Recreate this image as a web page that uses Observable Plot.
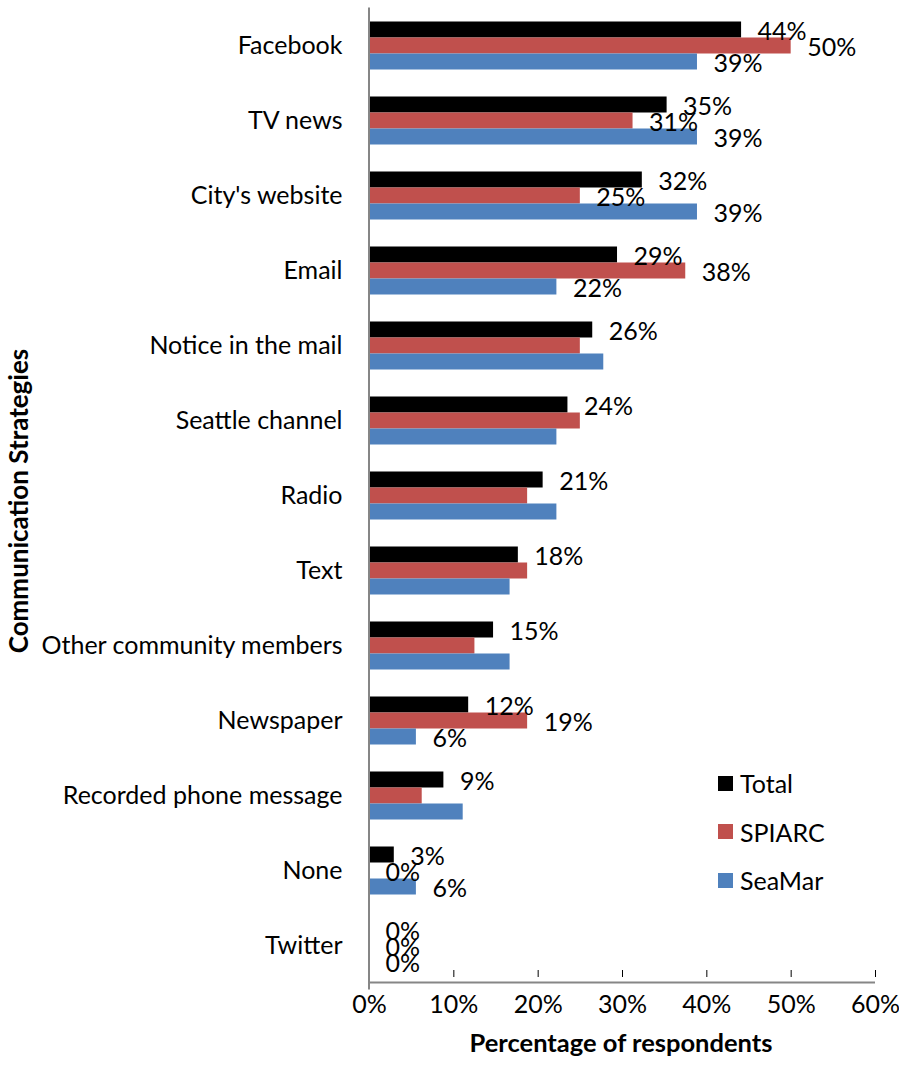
<!DOCTYPE html>
<html><head><meta charset="utf-8">
<script src="https://cdn.jsdelivr.net/npm/d3@7"></script>
<script src="https://cdn.jsdelivr.net/npm/@observablehq/plot@0.6"></script>
<style>
body{margin:0;background:#fff;}
#wrap{position:relative;width:899px;height:1070px;font-family:Lato, sans-serif;color:#000;}
.legend{position:absolute;left:718px;top:759px;}
.item{display:flex;align-items:center;height:48.5px;font-size:25px;}
.sw{width:15px;height:15px;margin-right:7px;}
.ytitle{position:absolute;left:18px;top:501px;transform:translate(-50%,-50%) rotate(-90deg);font-weight:bold;font-size:26px;white-space:nowrap;}
.xtitle{position:absolute;left:621px;top:1042px;transform:translate(-50%,-50%);font-weight:bold;font-size:25.5px;white-space:nowrap;}
</style></head><body><div id="wrap"></div>
<script>
const categories = ["Facebook","TV news","City's website","Email","Notice in the mail","Seattle channel","Radio","Text","Other community members","Newspaper","Recorded phone message","None","Twitter"];
const seriesNames = ["Total","SPIARC","SeaMar"];
const seriesColors = ["#000000","#C0504D","#4F81BD"];
const total  = [44.12, 35.29, 32.35, 29.41, 26.47, 23.53, 20.59, 17.65, 14.71, 11.76, 8.82, 2.94, 0];
const spiarc = [50, 31.25, 25, 37.5, 25, 25, 18.75, 18.75, 12.5, 18.75, 6.25, 0, 0];
const seamar = [38.89, 38.89, 38.89, 22.22, 27.78, 22.22, 22.22, 16.67, 16.67, 5.56, 11.11, 5.56, 0];
const showTotal  = [1,1,1,1,1,1,1,1,1,1,1,1,1];
const showSpiarc = [1,1,1,1,0,0,0,0,0,1,0,1,1];
const showSeamar = [1,1,1,1,0,0,0,0,0,1,0,1,1];
const xTicks = [0,10,20,30,40,50,60];

const valueArrays = [total, spiarc, seamar];
const showArrays = [showTotal, showSpiarc, showSeamar];
const rows = [];
categories.forEach((c, i) => {
  seriesNames.forEach((s, j) => {
    rows.push({category: c, series: s, value: valueArrays[j][i], show: showArrays[j][i] === 1});
  });
});

const plot = Plot.plot({
  width: 899, height: 1070,
  marginLeft: 369, marginRight: 24, marginTop: 7.5, marginBottom: 87.5,
  style: {fontFamily: "Lato, sans-serif", fontSize: "25px", color: "#000", background: "#fff", overflow: "visible"},
  facet: {data: rows, y: "category"},
  fy: {domain: categories, paddingInner: 1/3, paddingOuter: 1/6, label: null, tickSize: 0, tickPadding: 27},
  y: {domain: seriesNames, padding: 0, axis: null},
  x: {domain: [0, 60], ticks: xTicks, tickFormat: d => d + "%", tickSize: 7, tickPadding: 18, label: null},
  color: {domain: seriesNames, range: seriesColors},
  marks: [
    Plot.barX(rows, {x: "value", y: "series", fill: "series"}),
    Plot.text(rows, {filter: d => d.show, x: "value", y: "series", text: d => Math.round(d.value) + "%", dx: 16, dy: 2, textAnchor: "start", fill: "#000", fontSize: 25})
  ]
});

const wrap = document.getElementById("wrap");
wrap.appendChild(plot);

// style axes: gray lines, black text
const svg = d3.select(plot);
svg.selectAll("g[aria-label$='axis'] line, g[aria-label$='axis'] path").attr("stroke", "#868686").attr("stroke-width", 2);
svg.selectAll("g[aria-label$='axis'] text").attr("fill", "#000");

// axis lines via the library's scales
const xs = plot.scale("x");
const fys = plot.scale("fy");
const x0 = xs.apply(0), x1 = xs.apply(60);
const yTop = fys.apply(categories[0]) - fys.step * fys.paddingOuter;
const yBot = fys.apply(categories[categories.length - 1]) + fys.bandwidth + fys.step * fys.paddingOuter;
svg.append("line").attr("x1", x0).attr("x2", x0).attr("y1", yTop).attr("y2", yBot + 7).attr("stroke", "#868686").attr("stroke-width", 2);
svg.append("line").attr("x1", x0 - 1).attr("x2", x1).attr("y1", yBot).attr("y2", yBot).attr("stroke", "#868686").attr("stroke-width", 2);

// legend
const leg = document.createElement("div");
leg.className = "legend";
seriesNames.forEach((s, j) => {
  const it = document.createElement("div"); it.className = "item";
  const sw = document.createElement("div"); sw.className = "sw"; sw.style.background = seriesColors[j];
  const tx = document.createElement("span"); tx.textContent = s;
  it.appendChild(sw); it.appendChild(tx); leg.appendChild(it);
});
wrap.appendChild(leg);

const yt = document.createElement("div"); yt.className = "ytitle"; yt.textContent = "Communication Strategies"; wrap.appendChild(yt);
const xt = document.createElement("div"); xt.className = "xtitle"; xt.textContent = "Percentage of respondents"; wrap.appendChild(xt);
</script></body></html>
